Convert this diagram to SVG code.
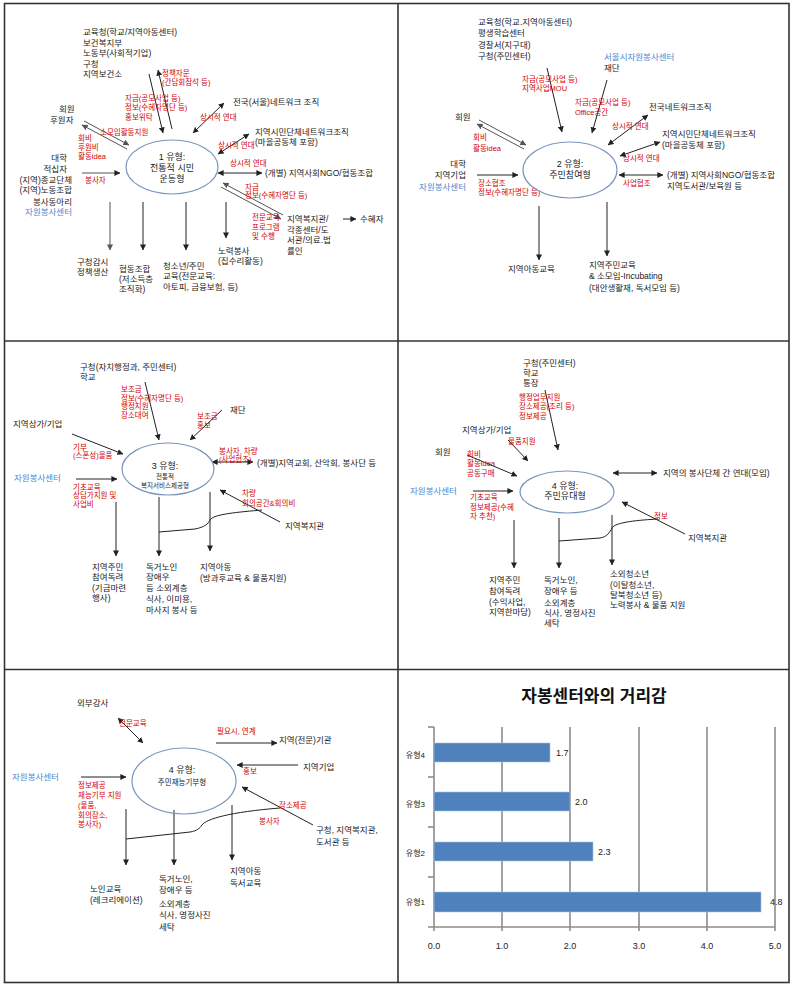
<svg xmlns="http://www.w3.org/2000/svg" width="790" height="984" viewBox="0 0 790 984">
  <defs>
    <marker id="ah" viewBox="0 0 8 8" refX="7.5" refY="4" markerWidth="6" markerHeight="6" markerUnits="userSpaceOnUse" orient="auto-start-reverse">
      <path d="M0,0 L8,4 L0,8 Z" fill="#222"/>
    </marker>
    <marker id="ahg" viewBox="0 0 8 8" refX="7.5" refY="4" markerWidth="6" markerHeight="6" markerUnits="userSpaceOnUse" orient="auto-start-reverse">
      <path d="M0,0 L8,4 L0,8 Z" fill="#555"/>
    </marker>
    <style>
      text { font-family: "Liberation Sans", "Noto Sans CJK KR", sans-serif; font-size: 8.5px; fill: #1a1a1a; }
      .r { fill: #d40000; font-size: 7.5px; }
      .b { fill: #4f86cc; }
      .m { text-anchor: middle; font-size: 9px; }
      .s { text-anchor: middle; font-size: 6.5px; }
      .e { text-anchor: end; }
      .ln { stroke: #222; stroke-width: 1; fill: none; }
      .lg { stroke: #555; stroke-width: 1; fill: none; }
      .a { marker-end: url(#ah); }
      .aa { marker-start: url(#ah); marker-end: url(#ah); }
      .ag { marker-end: url(#ahg); }
      .ell { fill: none; stroke: #7b96be; stroke-width: 1.2; }
      .frame { fill: none; stroke: #333; stroke-width: 1.6; }
      .grid { stroke: #8c8c8c; stroke-width: 1.6; }
      .bar { fill: #4f81bd; stroke: #a9c1e0; stroke-width: 0.6; }
      .ax { font-family: "Liberation Sans", sans-serif; font-size: 9px; fill: #222; }
    </style>
  </defs>

  <!-- panel frames -->
  <g id="frames">
    <rect class="frame" x="4.5" y="3.5" width="784.5" height="979"/>
    <line class="frame" x1="398" y1="3.5" x2="398" y2="983"/>
    <line class="frame" x1="4.5" y1="341" x2="789" y2="341"/>
    <line class="frame" x1="4.5" y1="669.5" x2="789" y2="669.5"/>
  </g>

  <!-- ===== Type 1 ===== -->
  <g id="t1-connectors">
    <line class="ln a" x1="149" y1="74" x2="163" y2="133"/>
    <line class="ln a" x1="172" y1="129" x2="158" y2="70"/>
    <line class="ln aa" x1="193" y1="133" x2="224" y2="103"/>
    <line class="ln aa" x1="218" y1="154" x2="249" y2="134"/>
    <line class="ln aa" x1="218" y1="173" x2="262" y2="173"/>
    <line class="lg ag" x1="127" y1="149" x2="82" y2="125"/>
    <line class="lg ag" x1="84" y1="121" x2="129" y2="145"/>
    <line class="lg a" x1="82" y1="173" x2="120" y2="173"/>
    <line class="lg ag" x1="283" y1="215" x2="223" y2="183"/>
    <line class="lg ag" x1="221" y1="187" x2="281" y2="219"/>
    <line class="ln a" x1="343" y1="219" x2="356" y2="219"/>
    <line class="lg ag" x1="110" y1="202" x2="110" y2="250"/>
    <line class="ln a" x1="143" y1="202" x2="143" y2="250"/>
    <line class="ln a" x1="186" y1="202" x2="186" y2="250"/>
    <line class="ln a" x1="226" y1="202" x2="226" y2="238"/>
  </g>
  <g id="t1-labels">
    <text class="r" x="162" y="76">정책자문</text>
    <text class="r" x="162" y="85">(간담회참석 등)</text>
    <text class="r" x="125" y="101">자금(공모사업 등)</text>
    <text class="r" x="125" y="110">정보(수혜자명단 등)</text>
    <text class="r" x="125" y="120">홍보위탁</text>
    <text class="r" x="200" y="120">상시적 연대</text>
    <text class="r" x="218" y="148">상시적 연대</text>
    <text class="r" x="230" y="166">상시적 연대</text>
    <text class="r" x="100" y="135">소모임활동지원</text>
    <text class="r" x="78" y="141">회비</text>
    <text class="r" x="78" y="150">후원비</text>
    <text class="r" x="78" y="159">활동idea</text>
    <text class="r" x="85" y="183">봉사자</text>
    <text class="r" x="245" y="190">자금</text>
    <text class="r" x="245" y="198">정보(수혜자명단 등)</text>
    <text class="r" x="252" y="220">전문교육</text>
    <text class="r" x="252" y="230">프로그램</text>
    <text class="r" x="252" y="239">및 수행</text>
  </g>
  <g id="t1-core">
    <ellipse class="ell" cx="172" cy="167" rx="46" ry="27"/>
    <text class="m" x="172" y="160">1 유형:</text>
    <text class="m" x="172" y="171">전통적 시민</text>
    <text class="m" x="172" y="182">운동형</text>
  </g>
  <g id="t1-gov">
    <text x="83" y="35">교육청(학교/지역아동센터)</text>
    <text x="83" y="45.5">보건복지부</text>
    <text x="83" y="56">노동부(사회적기업)</text>
    <text x="83" y="66.5">구청</text>
    <text x="83" y="77">지역보건소</text>
  </g>
  <g id="t1-national"><text x="233" y="105">전국(서울)네트워크 조직</text></g>
  <g id="t1-local-net">
    <text x="255" y="135">지역시민단체네트워크조직</text>
    <text x="255" y="145">(마을공동체 포함)</text>
  </g>
  <g id="t1-ngo"><text x="265" y="176">(개별) 지역사회NGO/협동조합</text></g>
  <g id="t1-members">
    <text x="59" y="112">회원</text>
    <text x="50" y="123">후원자</text>
  </g>
  <g id="t1-volunteers">
    <text class="e" x="67" y="161">대학</text>
    <text class="e" x="67" y="172">적십자</text>
    <text class="e" x="72" y="183">(지역)종교단체</text>
    <text class="e" x="72" y="193">(지역)노동조합</text>
    <text class="e" x="72" y="205">봉사동아리</text>
    <text class="e b" x="72" y="215">자원봉사센터</text>
  </g>
  <g id="t1-welfare">
    <text x="287" y="222">지역복지관/</text>
    <text x="287" y="233">각종센터/도</text>
    <text x="287" y="243">서관/의료.법</text>
    <text x="287" y="254">률인</text>
  </g>
  <g id="t1-beneficiary"><text x="360" y="222">수혜자</text></g>
  <g id="t1-out1"><text x="77" y="265">구청감시</text><text x="77" y="275">정책생산</text></g>
  <g id="t1-out2"><text x="119" y="272">협동조합</text><text x="119" y="282">(저소득층</text><text x="119" y="292">조직화)</text></g>
  <g id="t1-out3"><text x="163" y="269">청소년/주민</text><text x="163" y="279">교육(전문교육:</text><text x="163" y="290">아토피, 금융보험, 등)</text></g>
  <g id="t1-out4"><text x="218" y="254">노력봉사</text><text x="218" y="264">(집수리활동)</text></g>

  <!-- ===== Type 2 ===== -->
  <g id="t2-connectors">
    <line class="ln a" x1="547" y1="68" x2="562" y2="132"/>
    <line class="ln a" x1="607" y1="80" x2="592" y2="133"/>
    <line class="ln aa" x1="608" y1="145" x2="648" y2="115"/>
    <line class="ln aa" x1="620" y1="156" x2="660" y2="142"/>
    <line class="lg ag" x1="524" y1="149" x2="477" y2="124"/>
    <line class="lg ag" x1="479" y1="120" x2="526" y2="145"/>
    <line class="ln a" x1="477" y1="175" x2="518" y2="175"/>
    <line class="ln aa" x1="619" y1="175" x2="663" y2="175"/>
    <line class="ln a" x1="539" y1="206" x2="539" y2="260"/>
    <line class="ln a" x1="607" y1="202" x2="607" y2="256"/>
  </g>
  <g id="t2-labels">
    <text class="r" x="522" y="82">자금(공모사업 등)</text>
    <text class="r" x="522" y="91">지역사업MOU</text>
    <text class="r" x="575" y="105">자금(공모사업 등)</text>
    <text class="r" x="575" y="115">Office공간</text>
    <text class="r" x="612" y="129">상시적 연대</text>
    <text class="r" x="623" y="161">상시적 연대</text>
    <text class="r" x="473" y="140">회비</text>
    <text class="r" x="473" y="151">활동idea</text>
    <text class="r" x="478" y="186">장소협조</text>
    <text class="r" x="478" y="195">정보(수혜자명단 등)</text>
    <text class="r" x="623" y="186">사업협조</text>
  </g>
  <g id="t2-core">
    <ellipse class="ell" cx="570" cy="170" rx="47" ry="28"/>
    <text class="m" x="570" y="167">2 유형:</text>
    <text class="m" x="570" y="178">주민참여형</text>
  </g>
  <g id="t2-gov">
    <text x="478" y="25">교육청(학교.지역아동센터)</text>
    <text x="478" y="36">평생학습센터</text>
    <text x="478" y="48">경찰서(지구대)</text>
    <text x="478" y="59">구청(주민센터)</text>
  </g>
  <g id="t2-foundation">
    <text class="b" x="604" y="60">서울시자원봉사센터</text>
    <text x="604" y="71">재단</text>
  </g>
  <g id="t2-national"><text x="649" y="110">전국네트워크조직</text></g>
  <g id="t2-local-net">
    <text x="662" y="137">지역시민단체네트워크조직</text>
    <text x="662" y="148">(마을공동체 포함)</text>
  </g>
  <g id="t2-members"><text x="455" y="120">회원</text></g>
  <g id="t2-partners">
    <text class="e" x="466" y="167">대학</text>
    <text class="e" x="466" y="178">지역기업</text>
    <text class="e b" x="466" y="190">자원봉사센터</text>
  </g>
  <g id="t2-ngo">
    <text x="667" y="178">(개별) 지역사회NGO/협동조합</text>
    <text x="667" y="189">지역도서관/보육원 등</text>
  </g>
  <g id="t2-out1"><text x="508" y="272">지역아동교육</text></g>
  <g id="t2-out2">
    <text x="589" y="268">지역주민교육</text>
    <text x="589" y="279">&amp; 소모임-Incubating</text>
    <text x="589" y="291">(대안생활재, 독서모임 등)</text>
  </g>

  <!-- ===== Type 3 ===== -->
  <g id="t3-connectors">
    <line class="ln a" x1="145" y1="382" x2="159" y2="440"/>
    <line class="ln a" x1="222" y1="410" x2="190" y2="440"/>
    <line class="ln a" x1="72" y1="434" x2="123" y2="454"/>
    <line class="ln aa" x1="212" y1="462" x2="253" y2="462"/>
    <line class="ln a" x1="76" y1="479" x2="117" y2="479"/>
    <line class="ln a" x1="280" y1="522" x2="220" y2="490"/>
    <path class="ln" d="M159,532 L195,529 C205,527 208,524 210,520 C213,514 240,512 262,510"/>
    <line class="ln a" x1="116" y1="502" x2="116" y2="556"/>
    <line class="ln a" x1="159" y1="497" x2="159" y2="556"/>
    <line class="ln a" x1="210" y1="492" x2="210" y2="551"/>
  </g>
  <g id="t3-labels">
    <text class="r" x="121" y="392">보조금</text>
    <text class="r" x="121" y="400.5">정보(수혜자명단 등)</text>
    <text class="r" x="121" y="409">행정지원</text>
    <text class="r" x="121" y="418">장소대여</text>
    <text class="r" x="197" y="419">보조금</text>
    <text class="r" x="197" y="428">홍보</text>
    <text class="r" x="73" y="449.5">기부</text>
    <text class="r" x="73" y="458">(스폰성)물품</text>
    <text class="r" x="219" y="453.5">봉사자, 차량</text>
    <text class="r" x="219" y="462">(사업협조)</text>
    <text class="r" x="73" y="489.5">기초교육</text>
    <text class="r" x="73" y="498">상담가지원 및</text>
    <text class="r" x="73" y="507">사업비</text>
    <text class="r" x="242" y="496">차량</text>
    <text class="r" x="242" y="506">회의공간&amp;회의비</text>
  </g>
  <g id="t3-core">
    <ellipse class="ell" cx="168" cy="469" rx="46" ry="26"/>
    <text class="m" x="165" y="469">3 유형:</text>
    <text class="s" x="165" y="479">전통적</text>
    <text class="s" x="165" y="488">복지서비스제공형</text>
  </g>
  <g id="t3-gov"><text x="80" y="370">구청(자치행정과, 주민센터)</text><text x="80" y="380">학교</text></g>
  <g id="t3-foundation"><text x="230" y="413">재단</text></g>
  <g id="t3-business"><text x="13" y="427">지역상가/기업</text></g>
  <g id="t3-groups"><text x="257" y="466">(개별)지역교회, 산악회, 봉사단 등</text></g>
  <g id="t3-center"><text class="b" x="14" y="481">자원봉사센터</text></g>
  <g id="t3-welfare"><text x="285" y="529">지역복지관</text></g>
  <g id="t3-out1"><text x="92" y="570">지역주민</text><text x="92" y="580">참여독려</text><text x="92" y="591">(기금마련</text><text x="92" y="601">행사)</text></g>
  <g id="t3-out2"><text x="146" y="570">독거노인</text><text x="146" y="580">장애우</text><text x="146" y="591">등 소외계층</text><text x="146" y="602">식사, 이미용,</text><text x="146" y="613">마사지 봉사 등</text></g>
  <g id="t3-out3"><text x="200" y="570">지역아동</text><text x="200" y="581">(방과후교육 &amp; 물품지원)</text></g>

  <!-- ===== Type 4 ===== -->
  <g id="t4-connectors">
    <line class="ln a" x1="545" y1="390" x2="558" y2="450"/>
    <line class="ln a" x1="508" y1="440" x2="528" y2="461"/>
    <line class="ln a" x1="467" y1="455" x2="517" y2="476"/>
    <line class="ln a" x1="473" y1="491" x2="513" y2="491"/>
    <line class="ln aa" x1="613" y1="473" x2="657" y2="473"/>
    <line class="ln a" x1="685" y1="534" x2="622" y2="502"/>
    <path class="ln" d="M559,541 L600,538 C607,537 610,532 612,528 C615,522 640,520 658,519"/>
    <line class="ln a" x1="514" y1="520" x2="514" y2="568"/>
    <line class="ln a" x1="559" y1="518" x2="559" y2="568"/>
    <line class="ln a" x1="612" y1="515" x2="612" y2="565"/>
  </g>
  <g id="t4-labels">
    <text class="r" x="519" y="400">행정업무지원</text>
    <text class="r" x="519" y="409">장소제공(조리 등)</text>
    <text class="r" x="519" y="419">정보제공</text>
    <text class="r" x="508" y="444">물품지원</text>
    <text class="r" x="467" y="457">회비</text>
    <text class="r" x="467" y="466">활동idea</text>
    <text class="r" x="467" y="476">공동구매</text>
    <text class="r" x="470" y="500">기초교육</text>
    <text class="r" x="470" y="510">정보제공(수혜</text>
    <text class="r" x="470" y="519">자 추천)</text>
    <text class="r" x="654" y="519">정보</text>
  </g>
  <g id="t4-core">
    <ellipse class="ell" cx="567" cy="492" rx="47" ry="21"/>
    <text class="m" x="565" y="489">4 유형:</text>
    <text class="m" x="565" y="499">주민유대형</text>
  </g>
  <g id="t4-gov"><text x="523" y="366">구청(주민센터)</text><text x="523" y="376">학교</text><text x="523" y="386">통장</text></g>
  <g id="t4-business"><text x="462" y="433">지역상가/기업</text></g>
  <g id="t4-members"><text x="435" y="455">회원</text></g>
  <g id="t4-center"><text class="b" x="410" y="494">자원봉사센터</text></g>
  <g id="t4-groups"><text x="663" y="476">지역의 봉사단체 간 연대(모임)</text></g>
  <g id="t4-welfare"><text x="688" y="541">지역복지관</text></g>
  <g id="t4-out1"><text x="489" y="583">지역주민</text><text x="489" y="594">참여독려</text><text x="489" y="605">(수익사업,</text><text x="489" y="615">지역한마당)</text></g>
  <g id="t4-out2"><text x="544" y="583">독거노인,</text><text x="544" y="594">장애우 등</text><text x="544" y="606">소외계층</text><text x="544" y="616">식사, 영정사진</text><text x="544" y="626">세탁</text></g>
  <g id="t4-out3"><text x="610" y="577">소외청소년</text><text x="610" y="588">(이탈청소년,</text><text x="610" y="598">탈북청소년 등)</text><text x="610" y="608">노력봉사 &amp; 물품 지원</text></g>

  <!-- ===== Type 4 (talent donation) ===== -->
  <g id="t5-connectors">
    <line class="ln aa" x1="118" y1="718" x2="143" y2="743"/>
    <line class="ln a" x1="216" y1="743" x2="277" y2="743"/>
    <line class="ln a" x1="298" y1="765" x2="237" y2="765"/>
    <line class="ln a" x1="81" y1="777" x2="126" y2="777"/>
    <line class="ln a" x1="313" y1="825" x2="242" y2="787"/>
    <path class="ln" d="M126,839 L190,832 C197,831 200,828 202,825 C206,819 230,812 280,808"/>
    <line class="ln a" x1="126" y1="809" x2="126" y2="865"/>
    <line class="ln a" x1="174" y1="810" x2="174" y2="865"/>
    <line class="ln a" x1="232" y1="805" x2="232" y2="860"/>
  </g>
  <g id="t5-labels">
    <text class="r" x="119" y="726">전문교육</text>
    <text class="r" x="217" y="734">필요시, 연계</text>
    <text class="r" x="243" y="774">홍보</text>
    <text class="r" x="78" y="788">정보제공</text>
    <text class="r" x="78" y="798">재능기부 지원</text>
    <text class="r" x="78" y="808">(물품,</text>
    <text class="r" x="78" y="818">회의장소,</text>
    <text class="r" x="78" y="827">봉사자)</text>
    <text class="r" x="279" y="808">장소제공</text>
    <text class="r" x="259" y="824">봉사자</text>
  </g>
  <g id="t5-core">
    <ellipse class="ell" cx="184" cy="781" rx="52" ry="33"/>
    <text class="m" x="182" y="773">4 유형:</text>
    <text class="m" x="182" y="785" style="font-size:7.5px">주민재능기부형</text>
  </g>
  <g id="t5-lecturer"><text x="77" y="706">외부강사</text></g>
  <g id="t5-agency"><text x="279" y="743">지역(전문)기관</text></g>
  <g id="t5-business"><text x="303" y="770">지역기업</text></g>
  <g id="t5-center"><text class="b" x="12" y="780">자원봉사센터</text></g>
  <g id="t5-public"><text x="316" y="833">구청, 지역복지관,</text><text x="316" y="845">도서관 등</text></g>
  <g id="t5-out1"><text x="90" y="892">노인교육</text><text x="90" y="903">(레크리에이션)</text></g>
  <g id="t5-out2"><text x="159" y="882">독거노인,</text><text x="159" y="893">장애우 등</text><text x="159" y="907">소외계층</text><text x="159" y="918">식사, 영정사진</text><text x="159" y="930">세탁</text></g>
  <g id="t5-out3"><text x="230" y="874">지역아동</text><text x="230" y="886">독서교육</text></g>

  <!-- ===== Bar chart ===== -->
  <g id="chart">
    <text x="594" y="702" style="font-size:17px;font-weight:bold;text-anchor:middle;fill:#111">자봉센터와의 거리감</text>
    <g id="chart-grid">
      <line class="grid" x1="502" y1="727" x2="502" y2="927"/>
      <line class="grid" x1="570" y1="727" x2="570" y2="927"/>
      <line class="grid" x1="639" y1="727" x2="639" y2="927"/>
      <line class="grid" x1="707" y1="727" x2="707" y2="927"/>
      <line class="grid" x1="775" y1="727" x2="775" y2="927"/>
      <line class="grid" x1="434" y1="727" x2="434" y2="927"/>
      <line class="grid" x1="428" y1="927" x2="775" y2="927"/>
      <line class="grid" x1="428" y1="727" x2="434" y2="727"/>
      <line class="grid" x1="428" y1="777" x2="434" y2="777"/>
      <line class="grid" x1="428" y1="827" x2="434" y2="827"/>
      <line class="grid" x1="428" y1="877" x2="434" y2="877"/>
      <line class="grid" x1="434" y1="927" x2="434" y2="931"/>
      <line class="grid" x1="502" y1="927" x2="502" y2="931"/>
      <line class="grid" x1="570" y1="927" x2="570" y2="931"/>
      <line class="grid" x1="639" y1="927" x2="639" y2="931"/>
      <line class="grid" x1="707" y1="927" x2="707" y2="931"/>
      <line class="grid" x1="775" y1="927" x2="775" y2="931"/>
    </g>
    <g id="chart-bars">
      <rect class="bar" x="434" y="743" width="116" height="19"/>
      <rect class="bar" x="434" y="792" width="136" height="19"/>
      <rect class="bar" x="434" y="842" width="159" height="19"/>
      <rect class="bar" x="434" y="892" width="327" height="20"/>
    </g>
    <g id="chart-values">
      <text class="ax" x="556" y="756">1.7</text>
      <text class="ax" x="575" y="805">2.0</text>
      <text class="ax" x="598" y="855">2.3</text>
      <text class="ax" x="770" y="905">4.8</text>
    </g>
    <g id="chart-categories" style="text-anchor:end">
      <text x="425" y="758" style="font-size:8px">유형4</text>
      <text x="425" y="807" style="font-size:8px">유형3</text>
      <text x="425" y="856" style="font-size:8px">유형2</text>
      <text x="425" y="905" style="font-size:8px">유형1</text>
    </g>
    <g id="chart-axis" style="text-anchor:middle">
      <text class="ax" x="434" y="949">0.0</text>
      <text class="ax" x="502" y="949">1.0</text>
      <text class="ax" x="570" y="949">2.0</text>
      <text class="ax" x="639" y="949">3.0</text>
      <text class="ax" x="707" y="949">4.0</text>
      <text class="ax" x="775" y="949">5.0</text>
    </g>
  </g>
</svg>
